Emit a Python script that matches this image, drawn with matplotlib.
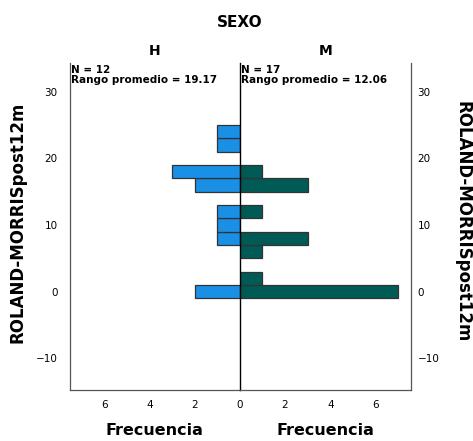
import matplotlib.pyplot as plt

# ROLAND-MORRISpost12m por SEXO (histograma tipo SPSS, bins de ancho 2)
bins_h = [0, 8, 10, 12, 16, 18, 22, 24]
frec_h = [2, 1, 1, 1, 2, 3, 1, 1]
bins_m = [0, 2, 6, 8, 12, 16, 18]
frec_m = [7, 1, 1, 3, 1, 3, 1]
grupos = ["H", "M"]
n_grupo = [12, 17]
rango_prom = [19.17, 12.06]
ylabel = "ROLAND-MORRISpost12m"

azul = "#1a8fe6"
verde = "#005a55"
borde = "#333333"

plt.rcParams['font.family'] = ['DejaVu Sans']

fig = plt.figure(figsize=(4.73, 4.41), dpi=100)
axL = fig.add_axes([0.148, 0.116, 0.359, 0.741])
axR = fig.add_axes([0.507, 0.116, 0.361, 0.741], sharey=axL)

axL.barh(bins_h, frec_h, height=2, color=azul, edgecolor=borde, linewidth=0.9)
axR.barh(bins_m, frec_m, height=2, color=verde, edgecolor=borde, linewidth=0.9)

axL.set_xlim(7.55, 0)
axR.set_xlim(0, 7.55)
axL.set_ylim(-14.7, 34.3)

for ax in (axL, axR):
    ax.spines['top'].set_visible(False)
    ax.tick_params(axis='both', length=0, labelsize=7.5)
    ax.tick_params(axis='x', pad=7)
    ax.set_xlabel("Frecuencia", fontsize=11.5, fontweight='bold', labelpad=10)
    for s in ax.spines.values():
        s.set_color('#555555')
        s.set_linewidth(0.9)

axL.set_xticks([0, 2, 4, 6])
axR.set_xticks([2, 4, 6])

axL.spines['right'].set_color('black')
axL.spines['right'].set_linewidth(0.5)
axR.spines['left'].set_color('black')
axR.spines['left'].set_linewidth(1.0)

axL.set_yticks([-10, 0, 10, 20, 30])
axL.tick_params(axis='y', pad=9)
axR.tick_params(axis='y', left=False, labelleft=False, right=False, labelright=True, pad=5)

fig.text(0.038, 0.497, ylabel, rotation=90, ha='center', va='center',
         fontsize=12, fontweight='bold')
fig.text(0.978, 0.497, ylabel, rotation=-90, ha='center', va='center',
         fontsize=12, fontweight='bold')

for ax, g in zip((axL, axR), grupos):
    ax.set_title(g, fontsize=10, fontweight='bold', pad=6)

axL.text(0.005, 0.995, "N = %d\nRango promedio = %.2f" % (n_grupo[0], rango_prom[0]),
         transform=axL.transAxes, ha='left', va='top', fontsize=7.5,
         fontweight='bold', linespacing=1.0)
axR.text(0.005, 0.995, "N = %d\nRango promedio = %.2f" % (n_grupo[1], rango_prom[1]),
         transform=axR.transAxes, ha='left', va='top', fontsize=7.5,
         fontweight='bold', linespacing=1.0)

fig.text(0.507, 0.95, "SEXO", ha='center', va='center', fontsize=11, fontweight='bold')

fig.savefig("out.png", dpi=100)
